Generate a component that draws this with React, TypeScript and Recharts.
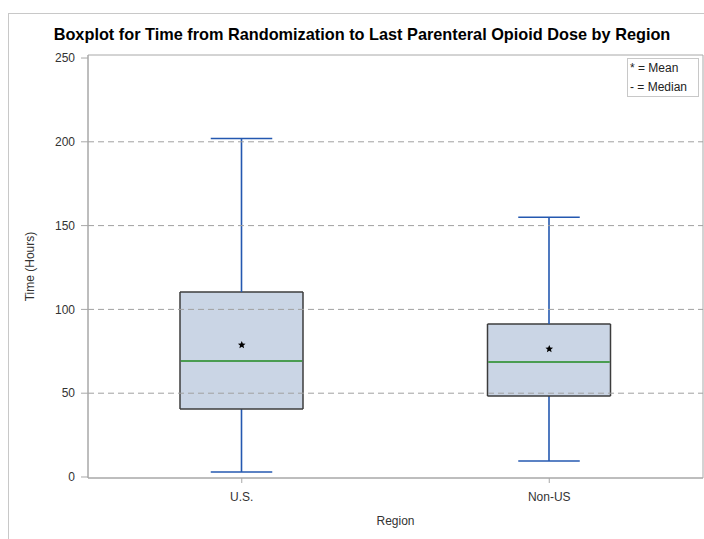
import { ComposedChart, Bar, Scatter, XAxis, YAxis, ReferenceLine, ReferenceArea } from "recharts";

// ─── Data ────────────────────────────────────────────────────────────────────

const regions = ["U.S.", "Non-US"];
const mins = [3, 9.5];
const q1s = [40.6, 48.3];
const medians = [69.2, 68.6];
const q3s = [110.4, 91.3];
const maxs = [202, 155];
const means = [78.8, 76.4];

const yTicks = [0, 50, 100, 150, 200, 250];
const gridValues = [50, 100, 150, 200];

// stacked segments: invisible base, lower whisker, lower box, upper box, upper whisker
const rows = regions.map((region, i) => ({
  region,
  base: mins[i],
  lowWhisker: q1s[i] - mins[i],
  lowBox: medians[i] - q1s[i],
  highBox: q3s[i] - medians[i],
  highWhisker: maxs[i] - q3s[i],
  mean: means[i],
}));

const Y_MIN = -0.6;
const Y_MAX = 251.8;

const FONT = '"Liberation Sans", Arial, sans-serif';
const BOX_FILL = "#cad5e5";
const BOX_EDGE = "#3c3c3c";
const WHISKER = "#2458b0";
const MEDIAN = "#1f8a1f";
const AXIS = "#a8a8a8";

// ─── Shapes ──────────────────────────────────────────────────────────────────

type SegProps = { x?: number; y?: number; width?: number; height?: number };

function Empty() {
  return <g />;
}

function LowWhisker({ x = 0, y = 0, width = 0, height = 0 }: SegProps) {
  const cx = x + width / 2;
  const cap = width / 4;
  return (
    <g stroke={WHISKER} strokeWidth={1.6}>
      <line x1={cx} x2={cx} y1={y} y2={y + height} />
      <line x1={cx - cap} x2={cx + cap} y1={y + height} y2={y + height} />
    </g>
  );
}

function HighWhisker({ x = 0, y = 0, width = 0, height = 0 }: SegProps) {
  const cx = x + width / 2;
  const cap = width / 4;
  return (
    <g stroke={WHISKER} strokeWidth={1.6}>
      <line x1={cx} x2={cx} y1={y} y2={y + height} />
      <line x1={cx - cap} x2={cx + cap} y1={y} y2={y} />
    </g>
  );
}

function LowBox({ x = 0, y = 0, width = 0, height = 0 }: SegProps) {
  return (
    <g>
      <rect x={x} y={y} width={width} height={height} fill={BOX_FILL} />
      <g stroke={BOX_EDGE} strokeWidth={1.5}>
        <line x1={x} x2={x} y1={y} y2={y + height} />
        <line x1={x + width} x2={x + width} y1={y} y2={y + height} />
        <line x1={x} x2={x + width} y1={y + height} y2={y + height} />
      </g>
    </g>
  );
}

function HighBox({ x = 0, y = 0, width = 0, height = 0 }: SegProps) {
  return (
    <g>
      <rect x={x} y={y} width={width} height={height} fill={BOX_FILL} />
      <g stroke={BOX_EDGE} strokeWidth={1.5}>
        <line x1={x} x2={x} y1={y} y2={y + height} />
        <line x1={x + width} x2={x + width} y1={y} y2={y + height} />
        <line x1={x} x2={x + width} y1={y} y2={y} />
      </g>
      <line x1={x + 0.75} x2={x + width - 0.75} y1={y + height} y2={y + height} stroke={MEDIAN} strokeWidth={1.5} />
    </g>
  );
}

function MeanStar({ cx = 0, cy = 0 }: { cx?: number; cy?: number }) {
  const pts: string[] = [];
  for (let k = 0; k < 10; k++) {
    const r = k % 2 === 0 ? 4 : 1.8;
    const a = -Math.PI / 2 + (k * Math.PI) / 5;
    pts.push(`${cx + r * Math.cos(a)},${cy + r * Math.sin(a)}`);
  }
  return <polygon points={pts.join(" ")} fill="#000" />;
}

// ─── Component ───────────────────────────────────────────────────────────────

export default function App() {
  const tick = { fill: "#333", fontSize: 12, fontFamily: FONT };
  return (
    <div style={{ position: "absolute", left: 0, top: 0, width: 704, height: 539, background: "#fff", fontFamily: FONT }}>
      {/* outer frame */}
      <div
        style={{
          position: "absolute",
          left: 8,
          top: 13,
          width: 696,
          height: 526,
          borderLeft: "1px solid #c8c8c8",
          borderTop: "1px solid #c8c8c8",
        }}
      />
      <div
        style={{
          position: "absolute",
          left: 0,
          width: 724,
          top: 25,
          textAlign: "center",
          fontSize: 16.3,
          fontWeight: "bold",
          lineHeight: "19px",
          color: "#000",
        }}
      >
        Boxplot for Time from Randomization to Last Parenteral Opioid Dose by Region
      </div>

      <div style={{ position: "absolute", left: 0, top: 0 }}>
        <ComposedChart width={704} height={539} data={rows} margin={{ top: 55, right: 1, bottom: 0, left: 0 }}>
          <XAxis
            dataKey="region"
            type="category"
            axisLine={{ stroke: AXIS }}
            tickLine={{ stroke: AXIS }}
            tickSize={5}
            tickMargin={9}
            tick={tick}
            height={61}
            label={{ value: "Region", position: "insideBottom", offset: 14, fill: "#333", fontSize: 12, fontFamily: FONT }}
          />
          <YAxis
            type="number"
            domain={[Y_MIN, Y_MAX]}
            ticks={yTicks}
            allowDataOverflow
            width={88}
            axisLine={{ stroke: AXIS }}
            tickLine={{ stroke: AXIS }}
            tickSize={7}
            tickMargin={6}
            tick={tick}
            label={{
              value: "Time (Hours)",
              angle: -90,
              position: "insideLeft",
              offset: 30,
              fill: "#333",
              fontSize: 12,
              fontFamily: FONT,
              style: { textAnchor: "middle" },
            }}
          />

          {/* plot frame */}
          <ReferenceArea y1={Y_MIN} y2={Y_MAX} fill="none" stroke={AXIS} strokeOpacity={1} fillOpacity={0} />

          {gridValues.map((v) => (
            <ReferenceLine key={v} y={v} stroke="#a0a0a0" strokeDasharray="6 4" />
          ))}

          <Bar dataKey="base" stackId="box" barSize={123} shape={Empty} isAnimationActive={false} />
          <Bar dataKey="lowWhisker" stackId="box" barSize={123} shape={LowWhisker} isAnimationActive={false} />
          <Bar dataKey="lowBox" stackId="box" barSize={123} shape={LowBox} isAnimationActive={false} />
          <Bar dataKey="highBox" stackId="box" barSize={123} shape={HighBox} isAnimationActive={false} />
          <Bar dataKey="highWhisker" stackId="box" barSize={123} shape={HighWhisker} isAnimationActive={false} />
          <Scatter dataKey="mean" shape={MeanStar} isAnimationActive={false} />
        </ComposedChart>
      </div>

      {/* legend */}
      <div
        style={{
          position: "absolute",
          left: 627,
          top: 58,
          width: 72,
          height: 39,
          border: "1px solid #c8c8c8",
          fontSize: 12,
          lineHeight: "19px",
          color: "#222",
          paddingLeft: 2,
          boxSizing: "border-box",
        }}
      >
        <div>* = Mean</div>
        <div>- = Median</div>
      </div>
    </div>
  );
}
